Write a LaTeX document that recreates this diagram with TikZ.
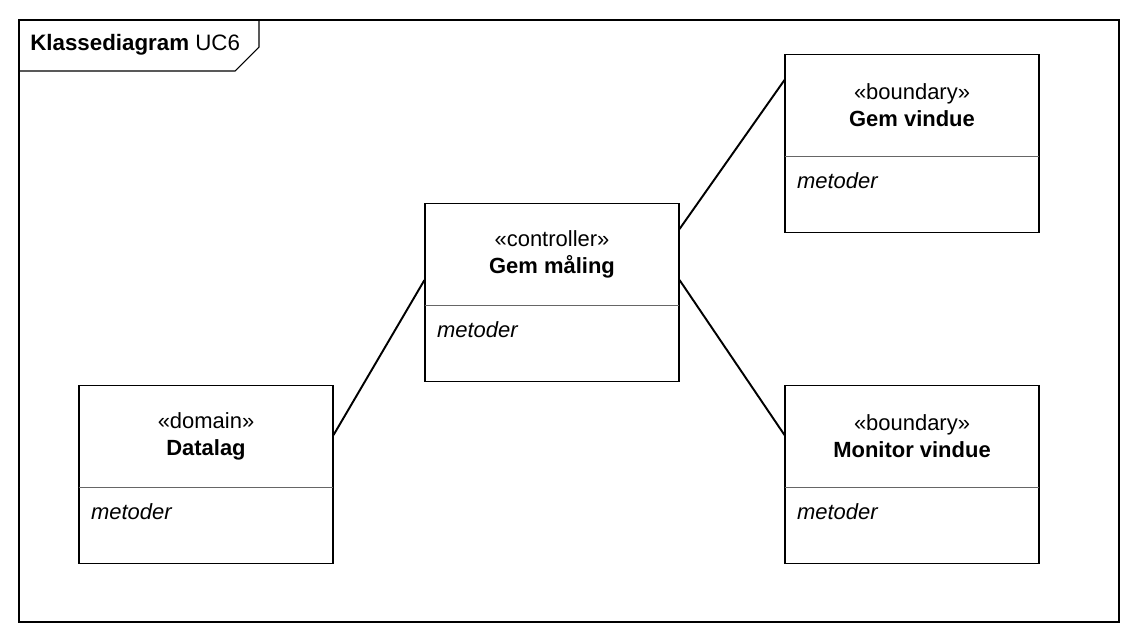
\documentclass[tikz,border=0pt]{standalone}
\usepackage{fontspec}
\setmainfont{Liberation Sans}
\usetikzlibrary{positioning}

\begin{document}
\begin{tikzpicture}[
  cls/.style={rectangle, draw, line width=0.6pt, minimum width=5.08cm, minimum height=3.56cm},
  head/.style={rectangle, anchor=north, minimum width=5.08cm, minimum height=2.04cm, align=center,
    font=\fontsize{12.5pt}{15.4pt}\selectfont},
  method/.style={anchor=base west, inner sep=0pt, font=\fontsize{12.5pt}{14pt}\selectfont\itshape},
  divider/.style={draw=black!60, line width=0.6pt},
  assoc/.style={line width=1.1pt},
  node distance=1cm
]
\useasboundingbox (0,0) rectangle (22.76,-12.84);

% frame and its tab
\draw[line width=0.6pt] (0.38,-0.40) rectangle (22.38,-12.44);
\draw[line width=0.6pt] (0.38,-1.42) -- (4.70,-1.42) -- (5.18,-0.94) -- (5.18,-0.40);
\node[anchor=west, inner sep=0pt, font=\fontsize{12.7pt}{14pt}\selectfont] (title) at (0.60,-0.90)
  {\textbf{Klassediagram} UC6};

% classes
\node[cls, anchor=north] (ctrl) at (11.04,-4.06) {};
\node[head] (ctrlhead) at (ctrl.north) {«controller»\\\textbf{Gem måling}};
\draw[divider] (ctrlhead.south west) -- (ctrlhead.south east);
\node[method, below right=0.64cm and 0.24cm of ctrlhead.south west, anchor=base west] (ctrlm) {metoder};

\node[cls, anchor=north] (gemv) at (18.24,-1.08) {};
\node[head] (gemvhead) at (gemv.north) {«boundary»\\\textbf{Gem vindue}};
\draw[divider] (gemvhead.south west) -- (gemvhead.south east);
\node[method, below right=0.64cm and 0.24cm of gemvhead.south west, anchor=base west] (gemvm) {metoder};

\node[cls, anchor=north] (monv) at (18.24,-7.70) {};
\node[head] (monvhead) at (monv.north) {«boundary»\\\textbf{Monitor vindue}};
\draw[divider] (monvhead.south west) -- (monvhead.south east);
\node[method, below right=0.64cm and 0.24cm of monvhead.south west, anchor=base west] (monvm) {metoder};

\node[cls, anchor=north] (data) at (4.12,-7.70) {};
\node[head] (datahead) at (data.north) {«domain»\\\textbf{Datalag}};
\draw[divider] (datahead.south west) -- (datahead.south east);
\node[method, below right=0.64cm and 0.24cm of datahead.south west, anchor=base west] (datam) {metoder};

% associations
\draw[assoc] ([yshift=-1.00cm]data.north east) -- ([yshift=-1.54cm]ctrl.north west);
\draw[assoc] ([yshift=-0.52cm]ctrl.north east) -- ([yshift=-0.52cm]gemv.north west);
\draw[assoc] ([yshift=-1.54cm]ctrl.north east) -- ([yshift=-1.00cm]monv.north west);
\end{tikzpicture}
\end{document}
